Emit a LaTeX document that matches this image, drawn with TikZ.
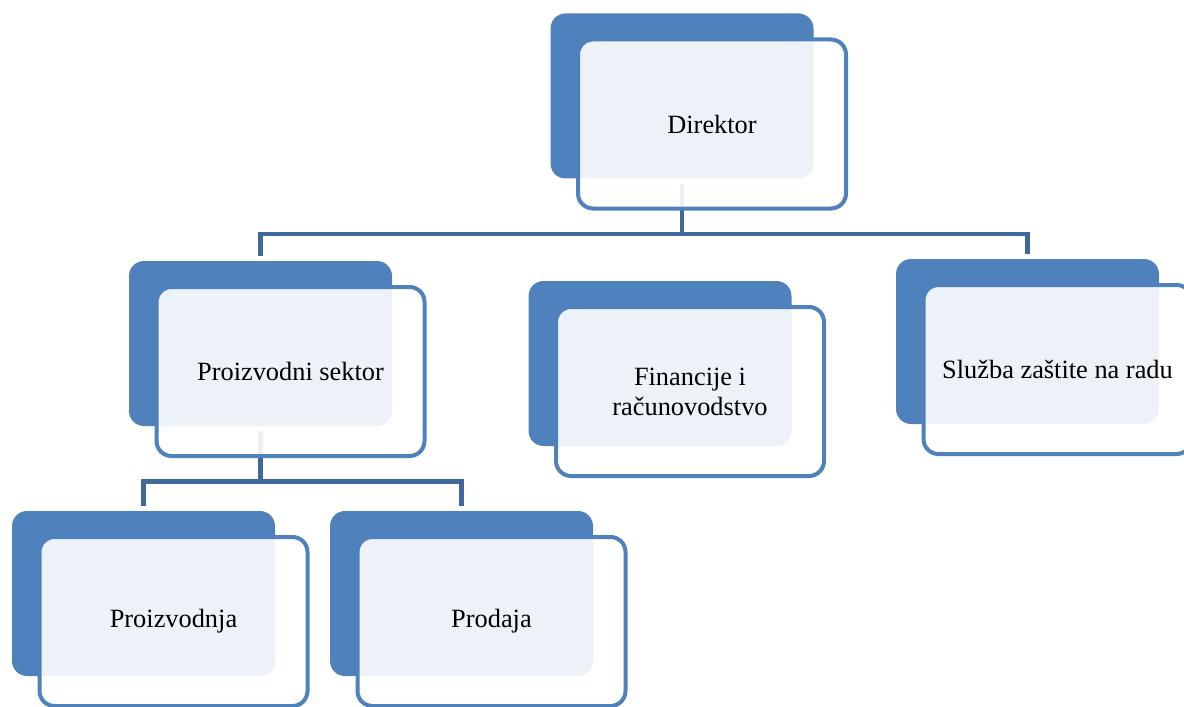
\documentclass[tikz,border=0pt]{standalone}
\usepackage{fontspec}
\setmainfont{Liberation Serif}
\RequirePackage{xcolor}
\definecolor{boxblue}{HTML}{4F81BD}
\definecolor{lineblue}{HTML}{41679C}
\usetikzlibrary{calc}
\usetikzlibrary{positioning}

\begin{document}
\begin{tikzpicture}[
  back/.style={fill=boxblue, rounded corners=0.3cm, inner sep=0pt,
    minimum width=5.26cm, minimum height=3.3cm},
  front/.style={draw=boxblue, line width=0.08cm, fill=white, fill opacity=0.9,
    text opacity=1, rounded corners=0.3cm, minimum width=5.36cm,
    minimum height=3.38cm, align=center, xshift=0.6cm, yshift=-0.56cm,
    font=\fontsize{15}{17}\selectfont},
  link/.style={draw=lineblue, line width=0.09cm, shorten <=0.1cm, shorten >=0.1cm},
  ]
  \useasboundingbox (0,0) rectangle (23.68,-14.12);

  % back plates
  \node[back] (dirB) at (13.64,-1.92) {};
  \node[back] (proB) at (5.21,-6.87) {};
  \node[back] (finB) at (13.2,-7.27) {};
  \node[back] (sluB) at (20.55,-6.83) {};
  \node[back] (pjaB) at (2.87,-11.87) {};
  \node[back] (pdaB) at (9.23,-11.87) {};

  % lines
  \draw[link] (dirB.south) -- ++(0,-1.1) -| (proB.north);
  \draw[link] (dirB.south) -- ++(0,-1.1) -| (sluB.north);
  \draw[link] (proB.south) -- ++(0,-1.1) -| (pjaB.north);
  \draw[link] (proB.south) -- ++(0,-1.1) -| (pdaB.north);

  % front boxes
  \node[front] (dir) at (dirB) {Direktor};
  \node[front] (pro) at (proB) {Proizvodni sektor};
  \node[front] (fin) at (finB) {Financije i\\računovodstvo};
  \node[front] (slu) at (sluB) {Služba zaštite na radu};
  \node[front] (pja) at (pjaB) {Proizvodnja};
  \node[front] (pda) at (pdaB) {Prodaja};
\end{tikzpicture}
\end{document}
